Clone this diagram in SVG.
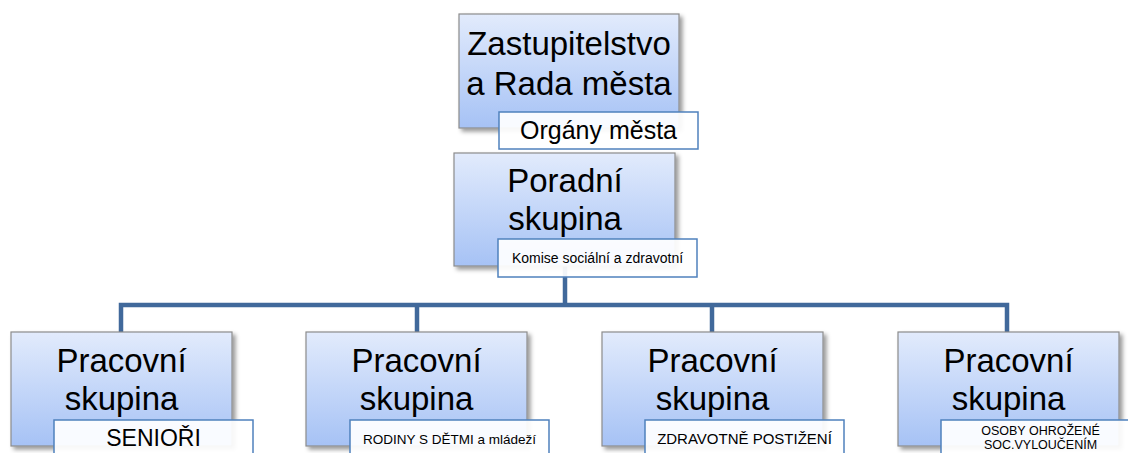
<svg xmlns="http://www.w3.org/2000/svg" width="1128" height="453" viewBox="0 0 1128 453">
<style>
.box{fill:url(#g);stroke:#8c8c8c;stroke-width:1.2;filter:url(#sh)}
.lab{fill:#fff;fill-opacity:0.93;stroke:#4f81bd;stroke-width:1.5}
.t{font-family:"Liberation Sans",Arial,sans-serif;fill:#000;text-anchor:middle}
.big{font-size:33px}
.con{fill:none;stroke:#41699b;stroke-width:4.5;stroke-linejoin:miter}
</style>
<defs>
<linearGradient id="g" x1="0" y1="0" x2="0" y2="1">
<stop offset="0" stop-color="#e2ebfc"/>
<stop offset="1" stop-color="#a6c2f5"/>
</linearGradient>
<filter id="sh" x="-10%" y="-10%" width="125%" height="130%">
<feDropShadow dx="3" dy="3" stdDeviation="2" flood-color="#000" flood-opacity="0.4"/>
</filter>
</defs>
<rect width="1128" height="453" fill="#fff"/>
<g id="connectors">
<path class="con" d="M565 266 V305"/>
<path class="con" d="M121 332 V305 H1007 V332"/>
<path class="con" d="M417 305 V332"/>
<path class="con" d="M712 305 V332"/>
</g>
<g id="n-zastupitelstvo">
<rect class="box" x="459" y="14" width="220" height="114"/>
<text class="t big" x="569" y="55">Zastupitelstvo</text>
<text class="t big" x="569" y="95">a Rada města</text>
<rect class="lab" x="499" y="112" width="199" height="37"/>
<text class="t" style="font-size:25px" x="598.5" y="139">Orgány města</text>
</g>
<g id="n-poradni">
<rect class="box" x="454" y="153" width="221" height="113"/>
<text class="t big" x="565" y="192">Poradní</text>
<text class="t big" x="565" y="230">skupina</text>
<rect class="lab" x="498" y="239" width="199" height="38"/>
<text class="t" style="font-size:14px" x="597.5" y="263">Komise sociální a zdravotní</text>
</g>
<g id="n-seniori">
<rect class="box" x="11" y="332" width="221" height="114"/>
<text class="t big" x="121.5" y="372">Pracovní</text>
<text class="t big" x="121.5" y="410">skupina</text>
<rect class="lab" x="54" y="420" width="199" height="38"/>
<text class="t" style="font-size:23px" x="153.5" y="446">SENIOŘI</text>
</g>
<g id="n-rodiny">
<rect class="box" x="306" y="332" width="221" height="114"/>
<text class="t big" x="416.5" y="372">Pracovní</text>
<text class="t big" x="416.5" y="410">skupina</text>
<rect class="lab" x="350" y="420" width="199" height="38"/>
<text class="t" style="font-size:13.5px" x="449.5" y="444">RODINY S DĚTMI a mládeží</text>
</g>
<g id="n-zdravotne">
<rect class="box" x="602" y="332" width="221" height="114"/>
<text class="t big" x="712.5" y="372">Pracovní</text>
<text class="t big" x="712.5" y="410">skupina</text>
<rect class="lab" x="645" y="420" width="199" height="38"/>
<text class="t" style="font-size:15px" x="744.5" y="444">ZDRAVOTNĚ POSTIŽENÍ</text>
</g>
<g id="n-osoby">
<rect class="box" x="898" y="332" width="221" height="114"/>
<text class="t big" x="1008.5" y="372">Pracovní</text>
<text class="t big" x="1008.5" y="410">skupina</text>
<rect class="lab" x="941" y="420" width="199" height="38"/>
<text class="t" style="font-size:12.5px" x="1040.5" y="435">OSOBY OHROŽENÉ</text>
<text class="t" style="font-size:12.5px" x="1040.5" y="449">SOC.VYLOUČENÍM</text>
</g>
</svg>
